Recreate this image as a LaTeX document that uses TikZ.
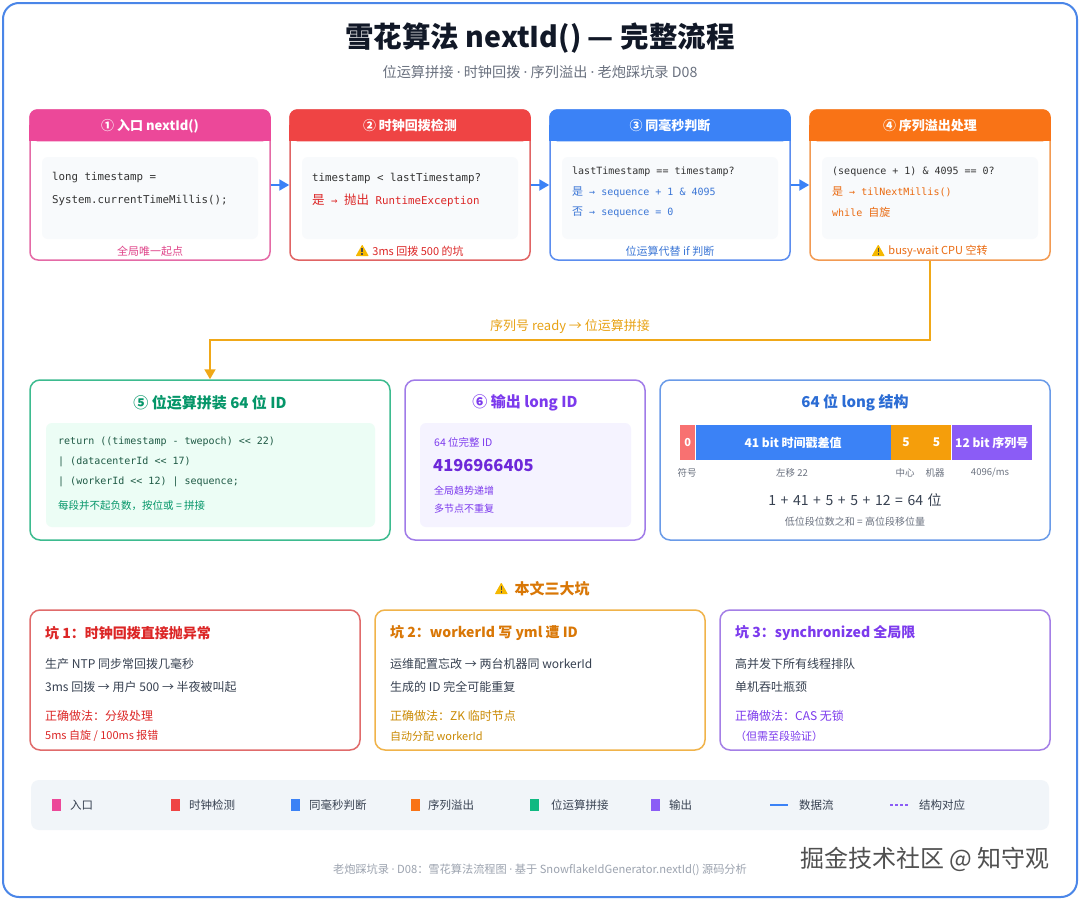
\documentclass[tikz,border=0pt]{standalone}
\usepackage{fontspec}
\setmainfont{Noto Sans CJK SC}
\setmonofont{DejaVu Sans Mono}
\newfontfamily\cjk{Noto Sans CJK SC}
\newfontfamily\latn{Noto Sans}
\usetikzlibrary{arrows.meta}
\newcommand\myfs[1]{\fontsize{#1}{#1}\selectfont}
\newcommand\mdot{{\latn ·}}
\newcommand\warntri[1]{\begin{scope}[shift={#1}]
  \fill[warnC, rounded corners=0.6pt] (-6.5,5) -- (6.5,5) -- (0,-6.5) -- cycle;
  \fill[black!70] (-0.75,-2.8) rectangle (0.75,1.4);
  \fill[black!70] (-0.75,2.2) rectangle (0.75,3.6);
\end{scope}}
\newcommand\wsp{\hspace{4.6pt}}
\definecolor{frameB}{HTML}{4A86E8}
\definecolor{titleC}{HTML}{111827}
\definecolor{subC}{HTML}{6B7280}
\definecolor{pinkH}{HTML}{EC4899}
\definecolor{pinkB}{HTML}{E46AA6}
\definecolor{pinkT}{HTML}{E0458A}
\definecolor{redH}{HTML}{EF4444}
\definecolor{redB}{HTML}{E06464}
\definecolor{redT}{HTML}{DC2626}
\definecolor{blueH}{HTML}{3B82F6}
\definecolor{blueB}{HTML}{5B8DEF}
\definecolor{blueT}{HTML}{3B76D6}
\definecolor{orangeH}{HTML}{F97316}
\definecolor{orangeB}{HTML}{F29A52}
\definecolor{orangeT}{HTML}{EA6A10}
\definecolor{amberL}{HTML}{F0A818}
\definecolor{amberT}{HTML}{E8A317}
\definecolor{greenB}{HTML}{3DBB8F}
\definecolor{greenT}{HTML}{059669}
\definecolor{greenBg}{HTML}{ECFDF5}
\definecolor{greenCode}{HTML}{1F5A45}
\definecolor{greenH}{HTML}{10B981}
\definecolor{purpB}{HTML}{A07BE8}
\definecolor{purpT}{HTML}{7C3AED}
\definecolor{purpBg}{HTML}{F5F3FF}
\definecolor{purpN}{HTML}{6D28D9}
\definecolor{purpH}{HTML}{8B5CF6}
\definecolor{structB}{HTML}{6A9BE8}
\definecolor{structT}{HTML}{2B6CD4}
\definecolor{segRed}{HTML}{F87171}
\definecolor{segOr}{HTML}{F59E0B}
\definecolor{codeBg}{HTML}{F8FAFC}
\definecolor{codeT}{HTML}{333333}
\definecolor{bodyT}{HTML}{374151}
\definecolor{grayT}{HTML}{6B7280}
\definecolor{legendBg}{HTML}{F1F5F9}
\definecolor{footT}{HTML}{9CA3AF}
\definecolor{pitRedB}{HTML}{E06B6B}
\definecolor{pitAmbB}{HTML}{F0B34A}
\definecolor{pitAmbT}{HTML}{D97706}
\definecolor{pitAmbC}{HTML}{CA8A04}
\definecolor{pitPurB}{HTML}{A47FE6}
\definecolor{warnC}{HTML}{F5B800}
\definecolor{wmC}{HTML}{505050}
\tikzset{
  topbox/.style={rectangle, rounded corners=8pt, minimum width=240pt, minimum height=150pt, line width=1.5pt, fill=white},
  midbox/.style={rectangle, rounded corners=10pt, minimum height=160pt, line width=1.5pt, fill=white},
  pitbox/.style={rectangle, rounded corners=10pt, minimum width=330pt, minimum height=140pt, line width=1.5pt, fill=white},
  panel/.style={rectangle, rounded corners=6pt, inner sep=0pt},
  hdr/.style={font=\myfs{13}\bfseries, text=white},
  codeA/.style={anchor=west, inner sep=0pt, font=\ttfamily\myfs{10.8}},
  codeB/.style={anchor=west, inner sep=0pt, font=\ttfamily\myfs{10}},
  foot/.style={font=\myfs{11}, inner sep=0pt},
  flow/.style={-{Triangle[length=10pt,width=11pt]}, line width=2pt, blueH},
  conn/.style={-{Triangle[length=10pt,width=11pt]}, line width=2pt, amberL},
  midtitle/.style={font=\myfs{15}\bfseries},
  seg/.style={rectangle, inner sep=0pt, minimum height=35pt, anchor=west, text=white, font=\myfs{12}\bfseries},
  bitlbl/.style={font=\myfs{9.5}, text=grayT},
  pittitle/.style={anchor=west, inner sep=0pt, font=\myfs{14}\bfseries},
  pitbody/.style={anchor=west, inner sep=0pt, font=\myfs{12}, text=bodyT},
  pitfix/.style={anchor=west, inner sep=0pt, font=\myfs{12}},
  pitfix2/.style={anchor=west, inner sep=0pt, font=\myfs{11}},
  sq/.style={rectangle, inner sep=0pt, minimum width=9pt, minimum height=12pt},
  legtxt/.style={anchor=west, inner sep=0pt, font=\myfs{11.5}, text=bodyT},
  smalltxt/.style={anchor=west, inner sep=0pt, font=\myfs{10}, text=purpT}
}
\begin{document}
\begin{tikzpicture}[x=1pt,y=-1pt]
\useasboundingbox (0,0) rectangle (1080,900);
\fill[white] (0,0) rectangle (1080,900);
\draw[frameB, line width=2pt, rounded corners=16pt, fill=white] (3,3) rectangle (1077,897);

% title
\node[font=\myfs{28.5}\bfseries, text=titleC] (title) at (540,38) {雪花算法 nextId() — 完整流程};
\node[font=\myfs{14.2}, text=subC] (sub) at (540,72) {位运算拼接 \mdot{} 时钟回拨 \mdot{} 序列溢出 \mdot{} 老炮踩坑录 D08};

% ---------- top row ----------
\node[topbox, draw=pinkB] (b1) at (150,185) {};
\node[topbox, draw=redB] (b2) at (410,185) {};
\node[topbox, draw=blueB] (b3) at (670,185) {};
\node[topbox, draw=orangeB] (b4) at (930,185) {};
\foreach \b/\c in {b1/pinkH, b2/redH, b3/blueH, b4/orangeH}{
  \fill[\c, rounded corners=8pt] (\b.north west) rectangle ([yshift=-32pt]\b.north east);
  \fill[\c] ([yshift=-16pt]\b.north west) rectangle ([yshift=-32pt]\b.north east);
}
\node[hdr] (h1) at (150,126) {① 入口 nextId()};
\node[hdr] (h2) at (410,126) {② 时钟回拨检测};
\node[hdr] (h3) at (670,126) {③ 同毫秒判断};
\node[hdr] (h4) at (930,126) {④ 序列溢出处理};

\node[panel, fill=codeBg, minimum width=216pt, minimum height=82pt] (p1) at (150,198) {};
\node[panel, fill=codeBg, minimum width=216pt, minimum height=82pt] (p2) at (410,198) {};
\node[panel, fill=codeBg, minimum width=216pt, minimum height=82pt] (p3) at (670,198) {};
\node[panel, fill=codeBg, minimum width=216pt, minimum height=82pt] (p4) at (930,198) {};

\node[codeA, text=codeT] (c1a) at (52,178) {long timestamp =};
\node[codeA, text=codeT] (c1b) at (52,200) {System.currentTimeMillis();};
\node[codeA, text=codeT] (c2a) at (312,178) {timestamp < lastTimestamp?};
\node[codeA, text=redT] (c2b) at (312,200) {{\cjk\myfs{12.5}是} → {\cjk\myfs{12.5}抛出} RuntimeException};
\node[codeB, text=codeT] (c3a) at (572,172) {lastTimestamp == timestamp?};
\node[codeB, text=blueT] (c3b) at (572,192) {{\cjk\myfs{11}是} → sequence + 1 \& 4095};
\node[codeB, text=blueT] (c3c) at (572,212) {{\cjk\myfs{11}否} → sequence = 0};
\node[codeB, text=codeT] (c4a) at (832,172) {(sequence + 1) \& 4095 == 0?};
\node[codeB, text=orangeT] (c4b) at (832,192) {{\cjk\myfs{11}是} → tilNextMillis()};
\node[codeB, text=orangeT] (c4c) at (832,212) {while {\cjk\myfs{11}自旋}};

\node[foot, text=pinkT] (f1) at (150,251) {全局唯一起点};
\node[foot, text=redT] (f2) at (418,251) {3ms 回拨 500 的坑};
\warntri{([xshift=-10pt]f2.west)}
\node[foot, text=blueT] (f3) at (670,251) {位运算代替 if 判断};
\node[foot, text=orangeT] (f4) at (938,251) {busy-wait CPU 空转};
\warntri{([xshift=-10pt]f4.west)}

\draw[flow] (b1.east) -- (b2.west);
\draw[flow] (b2.east) -- (b3.west);
\draw[flow] (b3.east) -- (b4.west);

% ---------- middle row ----------
\node[midbox, draw=greenB, minimum width=360pt] (b5) at (210,460) {};
\node[midbox, draw=purpB, minimum width=240pt] (b6) at (525,460) {};
\node[midbox, draw=structB, minimum width=390pt] (b7) at (855,460) {};

\coordinate (turn) at (930,340);
\draw[conn] (b4.south) -- (turn) -| (b5.north);
\node[font=\myfs{13}, text=amberT] (lbl) at (570,327) {序列号 ready → 位运算拼接};

% box 5
\node[midtitle, text=greenT] (t5) at (210,403) {⑤ 位运算拼装 64 位 ID};
\node[panel, fill=greenBg, minimum width=329pt, minimum height=104pt] (p5) at (210.5,475) {};
\node[codeB, text=greenCode] (c5a) at (58,442) {return ((timestamp - twepoch) << 22)};
\node[codeB, text=greenCode] (c5b) at (58,462) {| (datacenterId << 17)};
\node[codeB, text=greenCode] (c5c) at (58,482) {| (workerId << 12) | sequence;};
\node[anchor=west, inner sep=0pt, font=\myfs{10.5}, text=greenT] (n5) at (58,506) {每段并不起负数，按位或 = 拼接};

% box 6
\node[midtitle, text=purpT] (t6) at (525,403) {⑥ 输出 long ID};
\node[panel, fill=purpBg, minimum width=211pt, minimum height=104pt] (p6) at (525.5,475) {};
\node[smalltxt, font=\myfs{10.5}] (s6a) at (434,442) {64 位完整 ID};
\node[anchor=west, inner sep=0pt, font=\myfs{16.5}\bfseries, text=purpN] (s6b) at (433,466) {4196966405};
\node[smalltxt] (s6c) at (434,491) {全局趋势递增};
\node[smalltxt] (s6d) at (434,509) {多节点不重复};

% box 7
\node[midtitle, text=structT] (t7) at (855,403) {64 位 long 结构};
\node[seg, fill=segRed, minimum width=15pt, font=\myfs{11}\bfseries] (s0) at (680,442.5) {0};
\node[seg, fill=blueH, minimum width=195pt] (s1) at (s0.east) {41 bit 时间戳差值};
\node[seg, fill=segOr, minimum width=30pt] (s2) at (s1.east) {5};
\node[seg, fill=segOr, minimum width=30pt] (s3) at (s2.east) {5};
\node[seg, fill=purpH, minimum width=80pt] (s4) at (s3.east) {12 bit 序列号};
\node[bitlbl] (l0) at (687,473) {符号};
\node[bitlbl] (l1) at (792,473) {左移 22};
\node[bitlbl] (l2) at (905,473) {中心};
\node[bitlbl] (l3) at (935,473) {机器};
\node[bitlbl] (l4) at (990,473) {4096/ms};
\node[font=\myfs{14}, text=bodyT] (sum) at (855,500) {1\wsp{}+\wsp{}41\wsp{}+\wsp{}5\wsp{}+\wsp{}5\wsp{}+\wsp{}12\wsp{}=\wsp{}64\wsp{}位};
\node[font=\myfs{10}, text=grayT] (sumn) at (855,522) {低位段位数之和 = 高位段移位量};

% ---------- pits ----------
\node[font=\myfs{15}\bfseries, text=pitAmbT, inner sep=0pt] (pith) at (552,589) {本文三大坑};
\warntri{([xshift=-13pt]pith.west)}
\node[pitbox, draw=pitRedB] (pa) at (195,680) {};
\node[pitbox, draw=pitAmbB] (pb) at (540,680) {};
\node[pitbox, draw=pitPurB] (pc) at (885,680) {};

\node[pittitle, text=redT] (pa1) at (45,633) {坑 1：时钟回拨直接抛异常};
\node[pitbody] (pa2) at (45,664) {生产 NTP 同步常回拨几毫秒};
\node[pitbody] (pa3) at (45,687) {3ms 回拨 → 用户 500 → 半夜被叫起};
\node[pitfix, text=redT] (pa4) at (45,716) {正确做法：分级处理};
\node[pitfix2, text=redT] (pa5) at (45,736) {5ms 自旋 / 100ms 报错};

\node[pittitle, text=pitAmbT] (pb1) at (390,633) {坑 2：workerId 写 yml 遭 ID};
\node[pitbody] (pb2) at (390,664) {运维配置忘改 → 两台机器同 workerId};
\node[pitbody] (pb3) at (390,687) {生成的 ID 完全可能重复};
\node[pitfix, text=pitAmbC] (pb4) at (390,716) {正确做法：ZK 临时节点};
\node[pitfix2, text=pitAmbC] (pb5) at (390,736) {自动分配 workerId};

\node[pittitle, text=purpT] (pc1) at (735,633) {坑 3：synchronized 全局限};
\node[pitbody] (pc2) at (735,664) {高并发下所有线程排队};
\node[pitbody] (pc3) at (735,687) {单机吞吐瓶颈};
\node[pitfix, text=purpT] (pc4) at (735,716) {正确做法：CAS 无锁};
\node[pitfix2, text=purpT] (pc5) at (735,736) {（但需至段验证）};

% ---------- legend ----------
\node[rectangle, fill=legendBg, rounded corners=8pt, minimum width=1018pt, minimum height=50pt] (leg) at (540,805) {};
\node[sq, fill=pinkH] (q1) at (56.5,805) {};
\node[legtxt] (q1t) at (70,805) {入口};
\node[sq, fill=redH] (q2) at (175.5,805) {};
\node[legtxt] (q2t) at (189,805) {时钟检测};
\node[sq, fill=blueH] (q3) at (295.5,805) {};
\node[legtxt] (q3t) at (309,805) {同毫秒判断};
\node[sq, fill=orangeH] (q4) at (415.5,805) {};
\node[legtxt] (q4t) at (428,805) {序列溢出};
\node[sq, fill=greenH] (q5) at (534.5,805) {};
\node[legtxt] (q5t) at (551,805) {位运算拼接};
\node[sq, fill=purpH] (q6) at (655.5,805) {};
\node[legtxt] (q6t) at (669,805) {输出};
\coordinate (la) at (770,805);
\coordinate (lb) at (788,805);
\draw[blueH, line width=2pt] (la) -- (lb);
\node[legtxt] (q7t) at (799,805) {数据流};
\coordinate (lc) at (890,805);
\coordinate (ld) at (909,805);
\draw[purpH, line width=2pt, dash pattern=on 3pt off 2pt] (lc) -- (ld);
\node[legtxt] (q8t) at (919,805) {结构对应};

% ---------- footer ----------
\node[font=\myfs{11.2}, text=footT] (foot) at (540,870) {老炮踩坑录 \mdot{} D08：雪花算法流程图 \mdot{} 基于 SnowflakeIdGenerator.nextId() 源码分析};
\node[font=\myfs{24}, text=wmC] (wm) at (925,859) {掘金技术社区 @ 知守观};
\end{tikzpicture}
\end{document}
